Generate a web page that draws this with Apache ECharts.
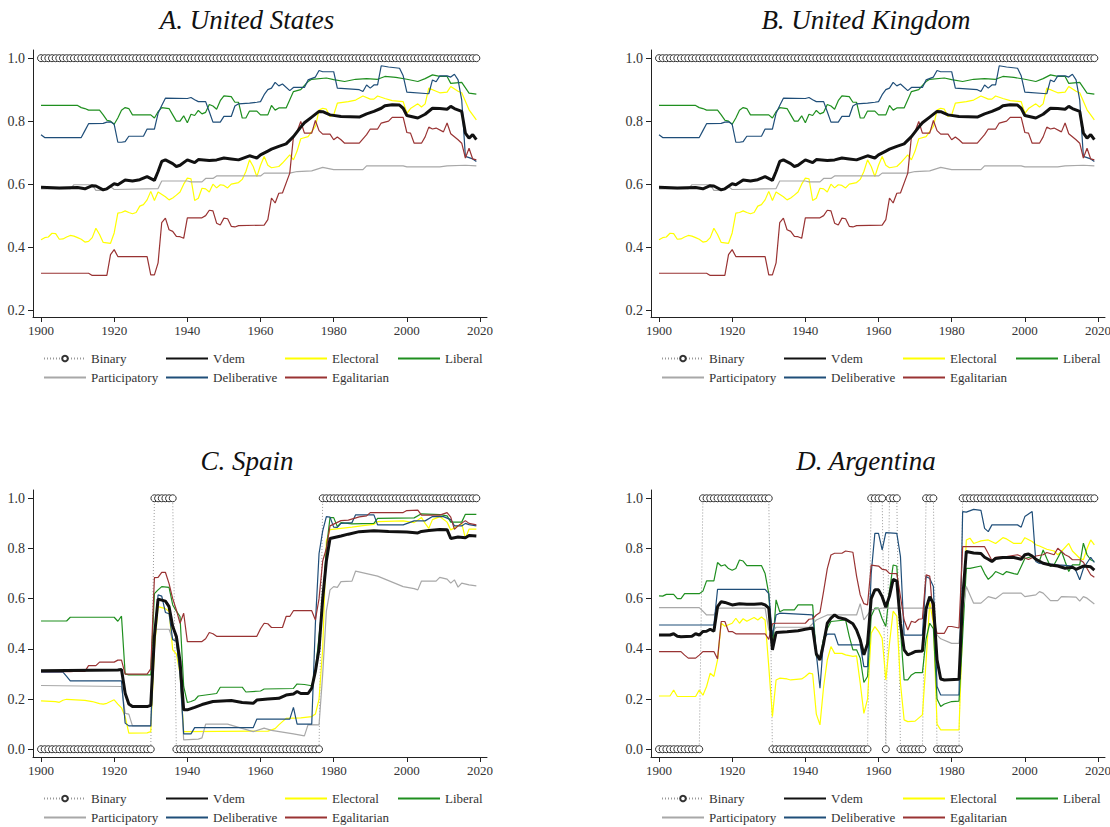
<!DOCTYPE html>
<html>
<head>
<meta charset="utf-8">
<title>Democracy indices</title>
<script src="https://cdn.jsdelivr.net/npm/echarts@6/dist/echarts.min.js"></script>
<style>
  html, body { margin: 0; background: #fff; }
  #main { width: 1110px; height: 827px; }
</style>
</head>
<body>
<div id="main"></div>
<script>
// one character per year, 1900..2019 (groups of ten years)
const usBinary = '1111111111 1111111111 1111111111 1111111111 1111111111 1111111111 1111111111 1111111111 1111111111 1111111111 1111111111 1111111111';
const esBinary = '0000000000 0000000000 0000000000 0111111000 0000000000 0000000000 0000000000 0000000111 1111111111 1111111111 1111111111 1111111111';
const arBinary = '0000000000 0011111111 1111111111 1000000000 0000000000 0000000011 1101110000 0001110000 0001111111 1111111111 1111111111 1111111111';

// United States: [year, value]
const usVdem = [[1900,.59],[1905,.588],[1910,.589],[1912,.585],[1914,.595],[1915,.594],[1917,.582],[1918,.585],[1920,.601],[1921,.598],[1923,.613],[1925,.61],[1927,.614],[1929,.624],[1931,.612],[1932,.64],[1933,.672],[1934,.677],[1936,.665],[1937,.656],[1938,.66],[1940,.677],[1942,.668],[1943,.678],[1946,.675],[1948,.677],[1950,.683],[1952,.68],[1954,.677],[1957,.69],[1959,.683],[1960,.693],[1962,.705],[1963,.711],[1965,.72],[1967,.728],[1969,.751],[1971,.781],[1972,.795],[1974,.813],[1976,.831],[1977,.83],[1979,.82],[1982,.815],[1987,.813],[1989,.823],[1991,.831],[1993,.841],[1994,.849],[1996,.852],[1998,.851],[1999,.841],[2000,.818],[2003,.81],[2005,.822],[2007,.841],[2009,.84],[2011,.838],[2012,.847],[2013,.84],[2015,.831],[2016,.762],[2017,.746],[2018,.757],[2019,.741]];
const usElec = [[1900,.423],[1901,.43],[1902,.432],[1903,.444],[1904,.443],[1905,.425],[1906,.426],[1907,.432],[1908,.437],[1909,.435],[1910,.43],[1911,.425],[1912,.416],[1913,.418],[1914,.43],[1915,.46],[1916,.44],[1917,.415],[1919,.412],[1920,.445],[1921,.508],[1922,.51],[1923,.515],[1924,.51],[1925,.506],[1926,.51],[1927,.53],[1928,.535],[1929,.55],[1930,.577],[1931,.548],[1932,.575],[1934,.56],[1935,.55],[1936,.556],[1937,.565],[1938,.575],[1939,.6],[1940,.619],[1941,.617],[1942,.548],[1943,.555],[1944,.587],[1945,.585],[1946,.575],[1947,.6],[1948,.588],[1949,.598],[1950,.596],[1951,.588],[1952,.6],[1954,.605],[1955,.615],[1956,.64],[1957,.677],[1958,.656],[1959,.624],[1960,.66],[1961,.688],[1962,.66],[1963,.652],[1965,.656],[1966,.667],[1968,.693],[1969,.677],[1970,.705],[1971,.744],[1973,.751],[1975,.783],[1976,.835],[1977,.841],[1978,.838],[1979,.815],[1980,.82],[1981,.857],[1984,.862],[1986,.867],[1988,.88],[1990,.87],[1991,.87],[1992,.88],[1994,.872],[1996,.865],[1999,.862],[2000,.825],[2001,.84],[2003,.855],[2004,.845],[2005,.855],[2006,.905],[2008,.895],[2009,.89],[2011,.892],[2012,.91],[2014,.895],[2015,.89],[2017,.836],[2019,.804]];
const usLib = [[1900,.85],[1910,.85],[1911,.843],[1912,.84],[1913,.835],[1916,.835],[1917,.82],[1918,.803],[1919,.8],[1920,.79],[1921,.81],[1922,.835],[1923,.843],[1924,.84],[1925,.82],[1930,.82],[1931,.81],[1932,.83],[1933,.843],[1935,.84],[1936,.82],[1937,.8],[1938,.8],[1939,.817],[1940,.795],[1941,.822],[1942,.818],[1943,.834],[1944,.823],[1945,.828],[1946,.853],[1947,.848],[1948,.838],[1949,.865],[1950,.88],[1952,.878],[1953,.86],[1954,.86],[1955,.81],[1956,.81],[1957,.832],[1959,.832],[1960,.82],[1962,.82],[1963,.85],[1964,.835],[1965,.842],[1967,.842],[1968,.868],[1969,.894],[1971,.9],[1973,.926],[1974,.933],[1978,.937],[1980,.932],[1983,.926],[1986,.933],[1989,.935],[1992,.933],[1994,.942],[1997,.939],[2000,.933],[2003,.926],[2005,.935],[2007,.947],[2009,.942],[2011,.942],[2012,.92],[2015,.923],[2017,.889],[2019,.886]];
const usPart = [[1900,.585],[1908,.585],[1909,.598],[1914,.598],[1915,.58],[1917,.58],[1918,.586],[1919,.592],[1920,.583],[1932,.586],[1933,.61],[1940,.61],[1941,.607],[1944,.607],[1945,.618],[1947,.618],[1948,.626],[1960,.626],[1961,.635],[1968,.635],[1970,.64],[1974,.642],[1977,.653],[1980,.646],[1988,.646],[1989,.658],[1999,.658],[2000,.655],[2009,.655],[2011,.658],[2016,.66],[2019,.658]];
const usDel = [[1900,.757],[1901,.748],[1911,.748],[1912,.77],[1913,.792],[1917,.793],[1918,.797],[1919,.798],[1920,.79],[1921,.733],[1922,.733],[1923,.735],[1924,.752],[1928,.752],[1929,.775],[1931,.775],[1932,.825],[1933,.85],[1934,.873],[1940,.872],[1941,.875],[1942,.868],[1943,.862],[1945,.862],[1946,.83],[1947,.797],[1949,.797],[1950,.815],[1952,.815],[1953,.848],[1954,.855],[1957,.857],[1959,.86],[1960,.862],[1961,.884],[1962,.9],[1963,.905],[1964,.923],[1965,.912],[1966,.918],[1968,.897],[1969,.907],[1972,.907],[1973,.931],[1975,.94],[1976,.961],[1977,.957],[1980,.957],[1981,.905],[1987,.9],[1988,.894],[1989,.915],[1990,.905],[1991,.915],[1992,.915],[1993,.976],[1995,.972],[1998,.968],[1999,.944],[2000,.892],[2006,.887],[2007,.931],[2008,.925],[2009,.944],[2011,.944],[2012,.94],[2013,.949],[2014,.931],[2015,.867],[2016,.688],[2018,.68],[2019,.672]];
const usEgal = [[1900,.317],[1913,.317],[1914,.31],[1918,.31],[1919,.376],[1920,.392],[1921,.37],[1929,.37],[1930,.312],[1931,.312],[1932,.35],[1933,.478],[1934,.492],[1935,.455],[1936,.45],[1937,.434],[1938,.433],[1939,.428],[1940,.493],[1944,.493],[1945,.5],[1946,.517],[1947,.515],[1948,.476],[1949,.47],[1950,.492],[1951,.49],[1952,.466],[1953,.464],[1954,.468],[1961,.47],[1962,.487],[1963,.556],[1964,.54],[1965,.571],[1966,.572],[1968,.635],[1969,.751],[1970,.767],[1971,.799],[1972,.762],[1974,.762],[1975,.802],[1976,.77],[1977,.759],[1979,.759],[1980,.741],[1981,.75],[1982,.741],[1983,.73],[1987,.73],[1989,.757],[1990,.775],[1992,.775],[1993,.794],[1995,.8],[1996,.812],[1999,.812],[2000,.764],[2001,.762],[2002,.73],[2004,.73],[2005,.75],[2006,.781],[2007,.775],[2008,.778],[2010,.766],[2011,.794],[2012,.76],[2014,.741],[2015,.73],[2016,.683],[2017,.714],[2018,.68],[2019,.677]];

// Spain
const esVdem = [[1900,.313],[1921,.316],[1922,.318],[1923,.223],[1924,.18],[1925,.17],[1929,.17],[1930,.175],[1931,.45],[1932,.598],[1934,.59],[1935,.568],[1936,.489],[1937,.449],[1938,.35],[1939,.157],[1940,.157],[1942,.167],[1944,.178],[1947,.19],[1952,.194],[1955,.186],[1958,.183],[1959,.196],[1962,.2],[1965,.203],[1967,.216],[1969,.22],[1970,.23],[1971,.222],[1973,.222],[1974,.243],[1975,.31],[1976,.4],[1977,.6],[1978,.75],[1979,.84],[1982,.85],[1984,.857],[1987,.867],[1991,.871],[1995,.868],[2000,.866],[2003,.862],[2004,.868],[2006,.872],[2009,.876],[2011,.875],[2012,.84],[2014,.846],[2016,.843],[2017,.852],[2019,.85]];
const esElec = [[1900,.193],[1904,.19],[1905,.187],[1906,.195],[1907,.199],[1912,.195],[1914,.19],[1916,.182],[1917,.18],[1918,.183],[1920,.197],[1921,.18],[1922,.165],[1923,.13],[1924,.064],[1929,.065],[1930,.07],[1931,.4],[1932,.568],[1934,.56],[1935,.55],[1936,.396],[1937,.38],[1938,.3],[1939,.07],[1962,.072],[1964,.082],[1965,.097],[1967,.123],[1971,.125],[1974,.13],[1975,.14],[1976,.2],[1977,.4],[1978,.83],[1979,.875],[1982,.88],[1985,.885],[1988,.891],[1991,.896],[1992,.907],[1999,.91],[2002,.903],[2004,.923],[2005,.9],[2006,.88],[2007,.915],[2009,.927],[2011,.905],[2012,.874],[2014,.89],[2015,.9],[2016,.84],[2017,.877],[2019,.877]];
const esLib = [[1900,.511],[1907,.511],[1908,.526],[1920,.526],[1921,.51],[1922,.53],[1923,.3],[1924,.296],[1930,.296],[1931,.62],[1932,.635],[1933,.648],[1935,.645],[1936,.575],[1937,.55],[1938,.529],[1939,.25],[1940,.186],[1941,.19],[1942,.196],[1943,.212],[1945,.216],[1948,.222],[1949,.247],[1955,.247],[1956,.228],[1960,.232],[1961,.24],[1969,.242],[1970,.26],[1972,.258],[1974,.253],[1975,.31],[1976,.45],[1977,.59],[1978,.8],[1979,.923],[1980,.923],[1981,.887],[1982,.903],[1985,.898],[1991,.9],[1992,.92],[2002,.922],[2004,.938],[2009,.935],[2011,.93],[2012,.905],[2015,.905],[2016,.936],[2019,.936]];
const esPart = [[1900,.254],[1922,.25],[1923,.143],[1924,.14],[1925,.093],[1930,.093],[1931,.478],[1935,.478],[1936,.438],[1937,.438],[1938,.3],[1939,.037],[1943,.04],[1944,.045],[1945,.1],[1951,.1],[1958,.07],[1961,.084],[1963,.075],[1969,.061],[1972,.053],[1973,.098],[1976,.097],[1977,.3],[1978,.55],[1979,.635],[1980,.648],[1981,.645],[1982,.668],[1985,.67],[1986,.71],[1989,.7],[1992,.69],[1995,.672],[1999,.648],[2002,.64],[2003,.635],[2004,.67],[2008,.67],[2009,.685],[2011,.678],[2012,.662],[2013,.675],[2014,.646],[2015,.662],[2017,.655],[2019,.651]];
const esDel = [[1900,.307],[1906,.307],[1907,.29],[1908,.272],[1922,.272],[1923,.104],[1924,.093],[1930,.093],[1931,.45],[1932,.615],[1933,.61],[1934,.545],[1935,.54],[1936,.436],[1937,.43],[1938,.3],[1939,.061],[1941,.061],[1942,.086],[1958,.086],[1959,.12],[1968,.12],[1969,.167],[1970,.1],[1974,.1],[1975,.5],[1976,.78],[1977,.87],[1978,.927],[1979,.925],[1980,.885],[1981,.884],[1982,.9],[1985,.903],[1986,.934],[1991,.934],[1992,.894],[1999,.894],[2002,.91],[2005,.91],[2007,.927],[2010,.927],[2012,.915],[2013,.89],[2015,.89],[2016,.9],[2017,.895],[2019,.89]];
const esEgal = [[1900,.309],[1908,.309],[1909,.31],[1912,.31],[1913,.333],[1915,.333],[1916,.347],[1920,.347],[1921,.355],[1922,.355],[1923,.299],[1929,.299],[1930,.32],[1931,.684],[1932,.685],[1933,.705],[1934,.705],[1935,.66],[1936,.6],[1937,.555],[1938,.502],[1939,.542],[1940,.429],[1944,.429],[1945,.44],[1946,.465],[1947,.46],[1948,.45],[1959,.45],[1960,.48],[1961,.502],[1962,.5],[1963,.485],[1966,.485],[1967,.529],[1968,.529],[1969,.552],[1974,.552],[1975,.515],[1976,.6],[1977,.75],[1978,.8],[1979,.89],[1982,.911],[1984,.913],[1987,.926],[1989,.93],[1990,.943],[1999,.943],[2000,.951],[2003,.953],[2004,.933],[2009,.933],[2011,.943],[2012,.925],[2013,.876],[2014,.89],[2016,.911],[2017,.9],[2019,.894]];

// Argentina
const arVdem = [[1900,.455],[1903,.455],[1904,.46],[1905,.45],[1906,.448],[1909,.45],[1910,.46],[1911,.455],[1912,.469],[1913,.47],[1914,.478],[1915,.47],[1916,.568],[1917,.588],[1918,.585],[1920,.575],[1922,.58],[1924,.578],[1926,.578],[1928,.58],[1929,.575],[1930,.562],[1931,.396],[1932,.465],[1935,.468],[1938,.472],[1940,.478],[1942,.483],[1943,.38],[1944,.356],[1945,.422],[1946,.502],[1947,.522],[1948,.535],[1949,.525],[1951,.518],[1953,.5],[1954,.475],[1955,.436],[1956,.376],[1957,.42],[1958,.6],[1959,.635],[1960,.635],[1961,.608],[1962,.566],[1963,.61],[1964,.677],[1965,.67],[1966,.502],[1967,.396],[1968,.376],[1969,.382],[1970,.389],[1972,.391],[1973,.56],[1974,.608],[1975,.58],[1976,.356],[1977,.28],[1978,.276],[1982,.279],[1983,.6],[1984,.788],[1986,.782],[1988,.78],[1989,.765],[1990,.757],[1991,.748],[1992,.76],[1994,.764],[1997,.764],[1999,.757],[2000,.775],[2001,.778],[2002,.77],[2003,.757],[2005,.741],[2007,.734],[2009,.73],[2011,.721],[2013,.725],[2014,.717],[2016,.73],[2018,.727],[2019,.714]];
const arElec = [[1900,.212],[1903,.212],[1904,.236],[1905,.21],[1910,.21],[1911,.236],[1912,.215],[1913,.25],[1914,.303],[1915,.29],[1916,.356],[1917,.502],[1918,.49],[1920,.502],[1921,.522],[1922,.502],[1923,.52],[1924,.51],[1926,.525],[1927,.515],[1928,.527],[1929,.515],[1930,.33],[1931,.13],[1932,.276],[1933,.283],[1935,.28],[1936,.276],[1939,.28],[1940,.29],[1941,.303],[1942,.3],[1943,.14],[1944,.097],[1945,.25],[1946,.356],[1947,.409],[1948,.382],[1950,.382],[1951,.376],[1953,.37],[1954,.372],[1955,.263],[1956,.143],[1957,.2],[1958,.462],[1959,.489],[1960,.47],[1961,.442],[1962,.276],[1963,.422],[1964,.55],[1965,.53],[1966,.263],[1967,.117],[1968,.11],[1970,.112],[1972,.137],[1973,.35],[1974,.585],[1975,.5],[1976,.1],[1977,.077],[1982,.077],[1983,.5],[1984,.834],[1985,.841],[1986,.82],[1987,.825],[1988,.83],[1990,.834],[1992,.82],[1994,.843],[1995,.838],[1997,.82],[1999,.82],[2000,.843],[2002,.828],[2003,.815],[2004,.81],[2006,.797],[2008,.79],[2009,.775],[2010,.788],[2012,.82],[2013,.79],[2015,.761],[2016,.755],[2017,.8],[2018,.834],[2019,.814]];
const arLib = [[1900,.611],[1901,.61],[1902,.617],[1904,.617],[1905,.6],[1906,.6],[1907,.62],[1911,.62],[1912,.63],[1913,.671],[1915,.671],[1916,.744],[1917,.73],[1918,.735],[1919,.72],[1920,.713],[1921,.72],[1922,.754],[1923,.75],[1924,.732],[1928,.732],[1929,.7],[1930,.62],[1931,.396],[1932,.595],[1933,.548],[1934,.555],[1937,.555],[1938,.575],[1942,.575],[1943,.37],[1944,.365],[1945,.442],[1946,.48],[1947,.509],[1951,.515],[1952,.45],[1953,.396],[1954,.396],[1955,.363],[1956,.266],[1957,.29],[1958,.53],[1959,.562],[1960,.562],[1961,.52],[1962,.489],[1963,.63],[1964,.734],[1965,.73],[1966,.475],[1967,.276],[1968,.276],[1969,.296],[1970,.305],[1972,.305],[1973,.44],[1974,.502],[1975,.48],[1976,.2],[1977,.17],[1978,.18],[1980,.19],[1982,.192],[1983,.45],[1984,.721],[1985,.721],[1988,.73],[1989,.7],[1990,.677],[1991,.69],[1992,.708],[1994,.695],[1995,.708],[1997,.7],[1998,.697],[1999,.728],[2000,.76],[2002,.768],[2003,.76],[2004,.75],[2005,.794],[2006,.76],[2007,.728],[2008,.735],[2010,.79],[2011,.748],[2012,.708],[2013,.735],[2015,.735],[2016,.821],[2017,.775],[2018,.755],[2019,.748]];
const arPart = [[1900,.564],[1911,.564],[1912,.55],[1913,.535],[1915,.535],[1916,.562],[1929,.562],[1930,.475],[1931,.47],[1932,.486],[1941,.486],[1943,.515],[1946,.535],[1954,.535],[1955,.58],[1956,.515],[1957,.535],[1958,.555],[1961,.562],[1975,.562],[1976,.455],[1977,.44],[1980,.422],[1982,.422],[1983,.55],[1984,.648],[1985,.615],[1986,.582],[1988,.582],[1990,.608],[1992,.6],[1994,.622],[1999,.622],[2000,.608],[2003,.615],[2004,.628],[2005,.622],[2007,.592],[2009,.592],[2010,.608],[2014,.606],[2015,.59],[2016,.608],[2017,.602],[2019,.579]];
const arDel = [[1900,.495],[1915,.495],[1916,.637],[1929,.637],[1930,.62],[1931,.45],[1932,.535],[1933,.542],[1942,.535],[1943,.38],[1944,.243],[1945,.44],[1946,.459],[1948,.459],[1949,.416],[1955,.416],[1956,.329],[1957,.329],[1958,.7],[1959,.86],[1960,.86],[1961,.794],[1962,.863],[1965,.86],[1966,.768],[1967,.455],[1972,.455],[1973,.688],[1974,.68],[1975,.648],[1976,.25],[1977,.216],[1982,.216],[1983,.947],[1984,.945],[1986,.956],[1988,.952],[1989,.88],[1990,.867],[1991,.894],[1998,.894],[1999,.885],[2000,.927],[2002,.947],[2003,.748],[2004,.74],[2007,.738],[2009,.735],[2011,.733],[2013,.73],[2014,.71],[2015,.675],[2016,.72],[2018,.765],[2019,.744]];
const arEgal = [[1900,.389],[1906,.389],[1907,.375],[1908,.363],[1910,.363],[1911,.375],[1912,.389],[1915,.389],[1916,.36],[1917,.509],[1918,.509],[1919,.469],[1920,.469],[1921,.46],[1929,.46],[1930,.438],[1931,.5],[1932,.502],[1940,.502],[1941,.518],[1942,.52],[1943,.535],[1944,.545],[1945,.63],[1946,.72],[1947,.774],[1948,.781],[1950,.781],[1951,.79],[1953,.785],[1954,.69],[1955,.615],[1956,.58],[1957,.575],[1958,.734],[1960,.73],[1961,.717],[1962,.715],[1963,.701],[1965,.7],[1966,.608],[1967,.515],[1968,.475],[1969,.51],[1970,.505],[1971,.518],[1972,.52],[1973,.695],[1974,.69],[1975,.515],[1976,.462],[1978,.462],[1979,.489],[1980,.489],[1982,.483],[1983,.807],[1989,.807],[1990,.78],[1991,.752],[1992,.765],[1995,.768],[1998,.775],[2000,.762],[2001,.756],[2003,.77],[2005,.775],[2006,.784],[2008,.775],[2009,.801],[2011,.775],[2012,.768],[2013,.755],[2015,.755],[2016,.745],[2018,.695],[2019,.685]];

const titles = ['A. United States', 'B. United Kingdom', 'C. Spain', 'D. Argentina'];
const xTicks = [1900, 1920, 1940, 1960, 1980, 2000, 2020];
const yTicksTop = [0.2, 0.4, 0.6, 0.8, 1.0];
const yTicksBottom = [0, 0.2, 0.4, 0.6, 0.8, 1.0];

// panel B repeats the US series, as in the figure
const panels = [
  { binary: usBinary, vdem: usVdem, elec: usElec, lib: usLib, part: usPart, del: usDel, egal: usEgal },
  { binary: usBinary, vdem: usVdem, elec: usElec, lib: usLib, part: usPart, del: usDel, egal: usEgal },
  { binary: esBinary, vdem: esVdem, elec: esElec, lib: esLib, part: esPart, del: esDel, egal: esEgal },
  { binary: arBinary, vdem: arVdem, elec: arElec, lib: arLib, part: arPart, del: arDel, egal: arEgal }
];

const serif = '"Liberation Serif", "DejaVu Serif", serif';
const axisColor = '#222';
const labelColor = '#333';

// layout of each panel (pixels)
const pos = [
  { left: 33, top: 50, ymin: 0.178, ymax: 1.026, ticks: yTicksTop, cx: 247, ty: 20 },
  { left: 651, top: 50, ymin: 0.178, ymax: 1.026, ticks: yTicksTop, cx: 866, ty: 20 },
  { left: 33, top: 490, ymin: -0.031, ymax: 1.033, ticks: yTicksBottom, cx: 247, ty: 461 },
  { left: 651, top: 490, ymin: -0.031, ymax: 1.033, ticks: yTicksBottom, cx: 866, ty: 461 }
];

const styles = {
  Vdem: { color: '#111111', width: 3 },
  Electoral: { color: '#ffff00', width: 1.2 },
  Liberal: { color: '#1f8f1f', width: 1.2 },
  Participatory: { color: '#a8a8a8', width: 1.2 },
  Deliberative: { color: '#1f4e79', width: 1.2 },
  Egalitarian: { color: '#993333', width: 1.2 }
};

// legend slots: [name, x, row]
const legendSlots = [
  ['Binary', 43, 0], ['Vdem', 165, 0], ['Electoral', 284, 0], ['Liberal', 397, 0],
  ['Participatory', 43, 1], ['Deliberative', 165, 1], ['Egalitarian', 284, 1]
];

const grid = [], xAxis = [], yAxis = [], series = [], legend = [], graphic = [];

pos.forEach(function (p, i) {
  grid.push({ left: p.left, top: p.top, width: 454, height: 267, containLabel: false, outerBoundsMode: 'none' });
  xAxis.push({
    type: 'value', gridIndex: i, min: 1897.81, max: 2021.91,
    axisLine: { show: true, onZero: false, lineStyle: { color: axisColor, width: 1 } },
    axisTick: { show: true, length: 5, customValues: xTicks, lineStyle: { color: axisColor } },
    axisLabel: { customValues: xTicks, margin: 7, fontFamily: serif, fontSize: 13, color: labelColor,
      formatter: function (v) { return String(v); } },
    splitLine: { show: false }
  });
  yAxis.push({
    type: 'value', gridIndex: i, min: p.ymin, max: p.ymax,
    axisLine: { show: true, onZero: false, lineStyle: { color: axisColor, width: 1 } },
    axisTick: { show: true, length: 5, customValues: p.ticks, lineStyle: { color: axisColor } },
    axisLabel: { customValues: p.ticks, margin: 8, fontFamily: serif, fontSize: 14, color: labelColor,
      formatter: function (v) { return v.toFixed(1); } },
    splitLine: { show: false }
  });

  const d = panels[i];
  const bits = d.binary.replace(/ /g, '').split('');
  series.push({
    name: 'Binary', type: 'line', xAxisIndex: i, yAxisIndex: i,
    data: bits.map(function (b, k) { return [1900 + k, +b]; }),
    symbol: 'circle', symbolSize: 7, showSymbol: true,
    itemStyle: { color: '#ffffff', borderColor: '#333', borderWidth: 1 },
    lineStyle: { color: '#999999', width: 1, type: [1, 2] },
    z: 2, animation: false, silent: true
  });
  [['Vdem', d.vdem], ['Electoral', d.elec], ['Liberal', d.lib], ['Participatory', d.part],
   ['Deliberative', d.del], ['Egalitarian', d.egal]].forEach(function (s) {
    const st = styles[s[0]];
    series.push({
      name: s[0], type: 'line', xAxisIndex: i, yAxisIndex: i, data: s[1],
      symbol: 'none', itemStyle: { color: st.color },
      lineStyle: { color: st.color, width: st.width },
      z: s[0] === 'Vdem' ? 4 : 3, animation: false, silent: true
    });
  });

  // one legend per entry so the two rows sit 19px apart
  const dx = p.left - 33, dy = p.top - 50;
  legendSlots.forEach(function (s) {
    const item = s[0] === 'Binary' ? { name: s[0] } : { name: s[0], itemStyle: { opacity: 0 } };
    legend.push({
      data: [item], left: s[1] + dx, top: 352 + s[2] * 19 + dy, padding: 0,
      itemWidth: 42, itemHeight: 7, selectedMode: false,
      textStyle: { fontFamily: serif, fontSize: 13, color: labelColor }
    });
  });

  graphic.push({
    type: 'text', x: p.cx, y: p.ty, silent: true,
    style: { text: titles[i], fontFamily: serif, fontStyle: 'italic', fontSize: 27,
      fill: '#111', align: 'center', verticalAlign: 'middle' }
  });
});

const chart = echarts.init(document.getElementById('main'), null, { renderer: 'svg' });
chart.setOption({
  backgroundColor: '#ffffff',
  animation: false,
  grid: grid, xAxis: xAxis, yAxis: yAxis,
  legend: legend, series: series, graphic: graphic
});
</script>
</body>
</html>
